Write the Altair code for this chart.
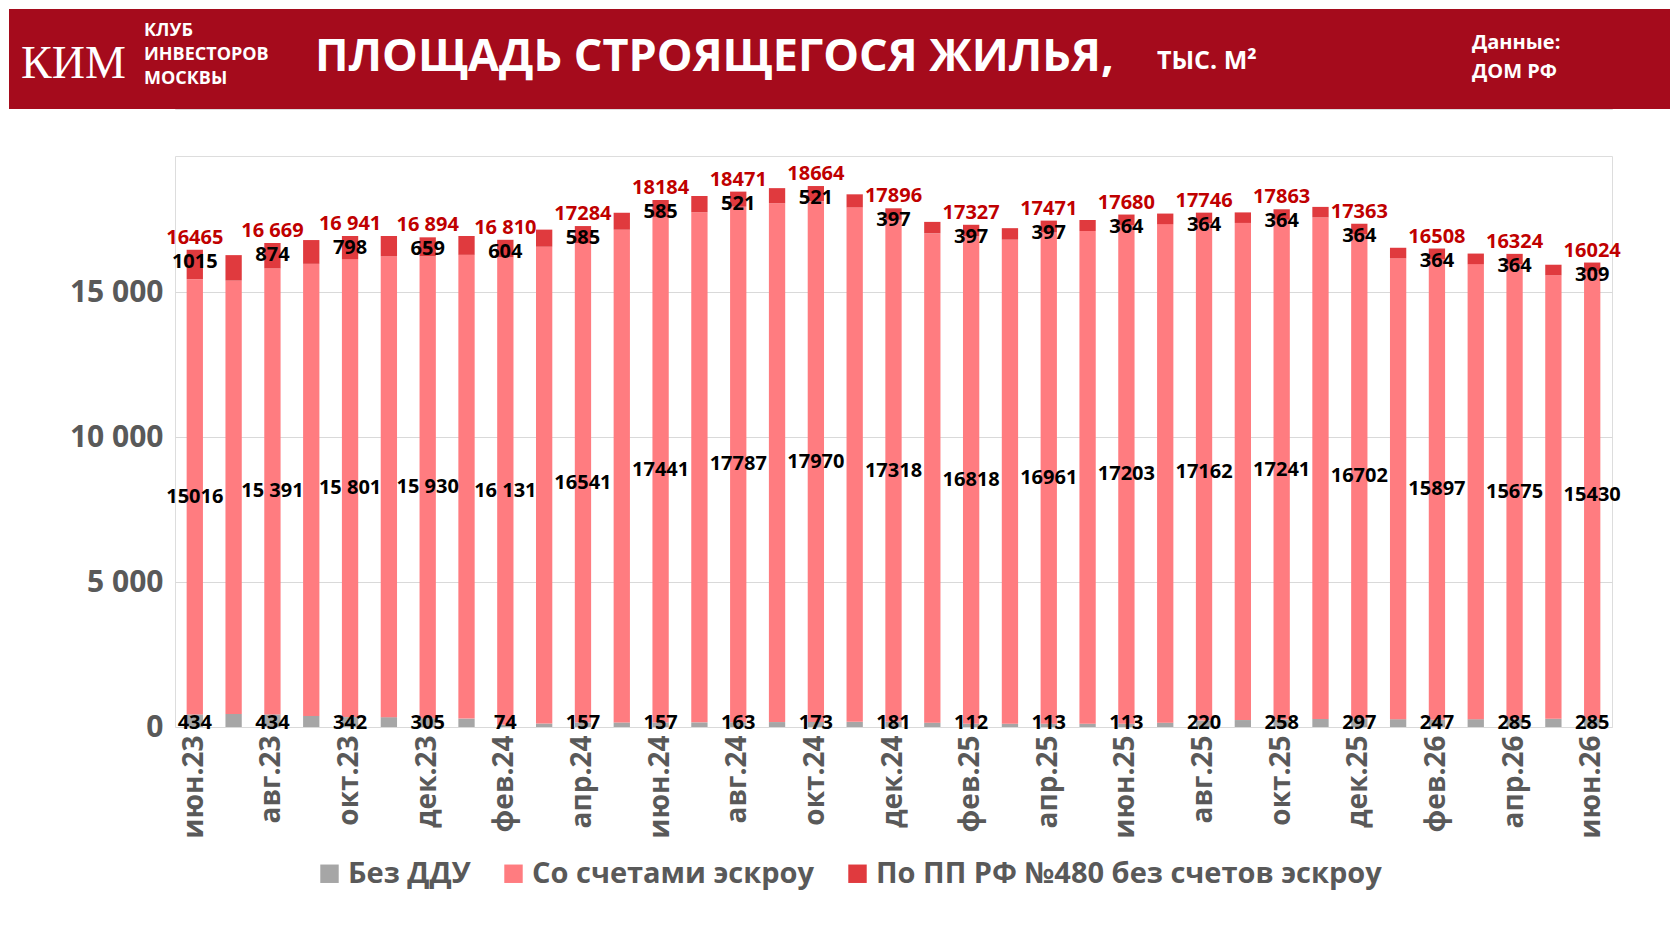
import altair as alt
import pandas as pd

months = ["июн.23","июл.23","авг.23","сен.23","окт.23","ноя.23","дек.23","янв.24","фев.24","мар.24","апр.24","май.24",
          "июн.24","июл.24","авг.24","сен.24","окт.24","ноя.24","дек.24","янв.25","фев.25","мар.25","апр.25","май.25",
          "июн.25","июл.25","авг.25","сен.25","окт.25","ноя.25","дек.25","янв.26","фев.26","мар.26","апр.26","май.26","июн.26"]
gray   = [434,450,434,380,342,340,305,290,74,120,157,157,157,160,163,170,173,178,181,150,112,113,113,113,113,150,220,240,258,280,297,270,247,270,285,285,285]
escrow = [15016,14950,15391,15600,15801,15900,15930,16000,16131,16450,16541,17000,17441,17600,17787,17900,17970,17750,17318,16880,16818,16700,16961,17000,17203,17200,17162,17150,17241,17300,16702,15900,15897,15700,15675,15300,15430]
red    = [1015,880,874,820,798,700,659,650,604,590,585,585,585,560,521,521,521,450,397,397,397,397,397,380,364,364,364,364,364,364,364,364,364,364,364,364,309]
total_lbl  = ["16465","","16 669","","16 941","","16 894","","16 810","","17284","","18184","","18471","","18664","","17896","",
              "17327","","17471","","17680","","17746","","17863","","17363","","16508","","16324","","16024"]
escrow_lbl = ["15016","","15 391","","15 801","","15 930","","16 131","","16541","","17441","","17787","","17970","","17318","",
              "16818","","16961","","17203","","17162","","17241","","16702","","15897","","15675","","15430"]

series = ["Без ДДУ", "Со счетами эскроу", "По ПП РФ №480 без счетов эскроу"]
colors = ["#a6a6a6", "#ff7c80", "#e03a3e"]

rows = []
for i, m in enumerate(months):
    for k, (s, v) in enumerate(zip(series, [gray[i], escrow[i], red[i]])):
        rows.append({"m": m, "s": s, "v": v, "o": k})
df = pd.DataFrame(rows)

lab = pd.DataFrame({"m": months, "g": gray, "e": escrow, "r": red,
                    "tl": total_lbl, "el": escrow_lbl})
lab["tot"] = lab.g + lab.e + lab.r
lab = lab[lab.tl != ""].reset_index(drop=True)
lab["gl"] = lab.g.astype(str)
lab["rl"] = lab.r.astype(str)

W, H = 1437, 571
xenc = alt.X("m:N", sort=months, title=None,
             scale=alt.Scale(paddingInner=0.58, paddingOuter=0.3),
             axis=alt.Axis(values=months[::2], labelAngle=-90, labelFontSize=28, labelFontWeight="bold",
                           labelColor="#595959", labelFont="Open Sans", ticks=False, domain=False, labelPadding=8))

bars = alt.Chart(df).mark_bar().encode(
    x=xenc,
    y=alt.Y("v:Q", stack="zero", title=None,
            scale=alt.Scale(domain=[0, 19700], nice=False),
            axis=alt.Axis(values=[0, 5000, 10000, 15000], labelFontSize=30, labelFontWeight="bold",
                          labelColor="#595959", labelFont="Open Sans", ticks=False, domain=False,
                          gridColor="#d9d9d9", labelPadding=12,
                          labelExpr="replace(format(datum.value, ','), ',', ' ')")),
    color=alt.Color("s:N", sort=series, scale=alt.Scale(domain=series, range=colors),
                    legend=alt.Legend(orient="none", legendX=140, legendY=850, direction="horizontal",
                                      title=None, labelFontSize=29, labelFontWeight="bold", labelLimit=0,
                                      labelColor="#595959", labelFont="Open Sans", symbolType="square",
                                      symbolSize=340, columnPadding=28, symbolStrokeWidth=0)),
    order=alt.Order("o:Q"),
)

tb = dict(fontSize=20, fontWeight="bold", font="Open Sans")
t_total = alt.Chart(lab).mark_text(color="#c00000", dy=-12, **tb).encode(x=alt.X("m:N", sort=months), y="tot:Q", text="tl:N")
t_red = alt.Chart(lab).mark_text(color="black", dy=12, **tb).encode(x=alt.X("m:N", sort=months), y="tot:Q", text="rl:N")
t_esc = alt.Chart(lab).transform_calculate(mid="datum.g + datum.e/2").mark_text(color="black", **tb).encode(
    x=alt.X("m:N", sort=months), y="mid:Q", text="el:N")
t_gray = alt.Chart(lab).mark_text(color="black", dy=-4, **tb).encode(x=alt.X("m:N", sort=months), y=alt.datum(0), text="gl:N")

main = alt.layer(bars, t_total, t_red, t_esc, t_gray).properties(width=W, height=H)

L = 168
hdr = pd.DataFrame({"x": [0]})
base_h = alt.Chart(hdr)
band = base_h.mark_rect(color="#a50b1c").encode(x=alt.value(-L + 2), x2=alt.value(1495), y=alt.value(0), y2=alt.value(100))
def txt(s, x, y, size, weight="bold", font="Open Sans"):
    return base_h.mark_text(text=s, color="white", fontSize=size, fontWeight=weight, font=font,
                            align="left", baseline="middle").encode(x=alt.value(x - L), y=alt.value(y))
header = alt.layer(
    band, txt("КИМ", 14, 55, 46, weight="normal", font="Liberation Serif"),
    txt("КЛУБ", 137, 22, 18), txt("ИНВЕСТОРОВ", 137, 46, 18), txt("МОСКВЫ", 137, 70, 18),
    txt("ПЛОЩАДЬ СТРОЯЩЕГОСЯ ЖИЛЬЯ,", 308, 48, 45), txt("ТЫС. М²", 1150, 52, 25),
    txt("Данные:", 1465, 34, 20), txt("ДОМ РФ", 1465, 63, 20),
).properties(width=W, height=100)

chart = alt.vconcat(header, main, spacing=45).configure_view(stroke=None).configure(
    padding={"left": 0, "top": 0, "right": 0, "bottom": 20})
chart.save("out.html", embed_options={"renderer": "svg", "actions": False})
